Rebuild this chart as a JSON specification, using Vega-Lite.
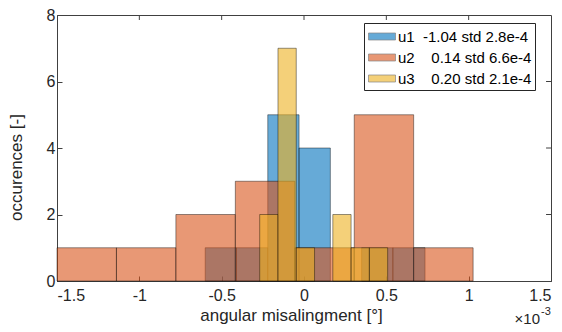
{
  "$schema": "https://vega.github.io/schema/vega-lite/v6.json",
  "autosize": {"type": "none"},
  "padding": {"left": 57, "top": 15, "right": 11, "bottom": 51},
  "width": 494,
  "height": 266,
  "config": {
    "font": "Liberation Sans",
    "view": {"stroke": "#404040", "strokeWidth": 1},
    "axis": {
      "domainColor": "#404040",
      "tickColor": "#404040",
      "labelColor": "#262626",
      "titleColor": "#262626",
      "labelFontSize": 16,
      "titleFontSize": 17,
      "titleFontWeight": "normal",
      "grid": false,
      "tickSize": -5,
      "labelPadding": 11,
      "labelExpr": "replace(format(datum.value, '~g'), '\u2212', '-')"
    }
  },
  "data": {
    "values": [
      {"s": "u1\u00a0\u00a0-1.04 std 2.8e-4", "x1": -0.60, "x2": -0.41, "n": 1},
      {"s": "u1\u00a0\u00a0-1.04 std 2.8e-4", "x1": -0.41, "x2": -0.22, "n": 1},
      {"s": "u1\u00a0\u00a0-1.04 std 2.8e-4", "x1": -0.22, "x2": -0.03, "n": 5},
      {"s": "u1\u00a0\u00a0-1.04 std 2.8e-4", "x1": -0.03, "x2": 0.16, "n": 4},
      {"s": "u1\u00a0\u00a0-1.04 std 2.8e-4", "x1": 0.35, "x2": 0.54, "n": 1},
      {"s": "u1\u00a0\u00a0-1.04 std 2.8e-4", "x1": 0.54, "x2": 0.735, "n": 1},
      {"s": "u2\u00a0\u00a0\u00a0\u00a00.14 std 6.6e-4", "x1": -1.5, "x2": -1.139, "n": 1},
      {"s": "u2\u00a0\u00a0\u00a0\u00a00.14 std 6.6e-4", "x1": -1.139, "x2": -0.778, "n": 1},
      {"s": "u2\u00a0\u00a0\u00a0\u00a00.14 std 6.6e-4", "x1": -0.778, "x2": -0.417, "n": 2},
      {"s": "u2\u00a0\u00a0\u00a0\u00a00.14 std 6.6e-4", "x1": -0.417, "x2": -0.056, "n": 3},
      {"s": "u2\u00a0\u00a0\u00a0\u00a00.14 std 6.6e-4", "x1": -0.056, "x2": 0.305, "n": 1},
      {"s": "u2\u00a0\u00a0\u00a0\u00a00.14 std 6.6e-4", "x1": 0.305, "x2": 0.666, "n": 5},
      {"s": "u2\u00a0\u00a0\u00a0\u00a00.14 std 6.6e-4", "x1": 0.666, "x2": 1.027, "n": 1},
      {"s": "u3\u00a0\u00a0\u00a0\u00a00.20 std 2.1e-4", "x1": -0.269, "x2": -0.158, "n": 2},
      {"s": "u3\u00a0\u00a0\u00a0\u00a00.20 std 2.1e-4", "x1": -0.158, "x2": -0.047, "n": 7},
      {"s": "u3\u00a0\u00a0\u00a0\u00a00.20 std 2.1e-4", "x1": -0.047, "x2": 0.064, "n": 1},
      {"s": "u3\u00a0\u00a0\u00a0\u00a00.20 std 2.1e-4", "x1": 0.175, "x2": 0.286, "n": 2},
      {"s": "u3\u00a0\u00a0\u00a0\u00a00.20 std 2.1e-4", "x1": 0.286, "x2": 0.397, "n": 1},
      {"s": "u3\u00a0\u00a0\u00a0\u00a00.20 std 2.1e-4", "x1": 0.397, "x2": 0.508, "n": 1}
    ]
  },
  "layer": [
    {
      "mark": {"type": "rect", "fillOpacity": 0.6, "stroke": "#000000", "strokeOpacity": 0.6, "strokeWidth": 0.7},
      "encoding": {
        "x": {
          "field": "x1", "type": "quantitative",
          "scale": {"domain": [-1.5, 1.5], "nice": false, "zero": false},
          "axis": {"orient": "bottom", "values": [-1.5, -1, -0.5, 0, 0.5, 1, 1.5], "title": "angular misalingment [°]", "titleX": 234, "titleY": 34, "titleBaseline": "middle"}
        },
        "x2": {"field": "x2"},
        "y": {
          "field": "n", "type": "quantitative",
          "scale": {"domain": [0, 8], "nice": false},
          "axis": {"orient": "left", "values": [0, 2, 4, 6, 8], "title": "occurences [-]", "titleX": -41, "titleY": 152, "titleBaseline": "middle", "labelPadding": 7}
        },
        "y2": {"datum": 0},
        "color": {
          "field": "s", "type": "nominal",
          "scale": {"range": ["#0072BD", "#D95319", "#EDB120"]},
          "legend": {
            "title": null,
            "orient": "none",
            "legendX": 307,
            "legendY": 8,
            "direction": "vertical",
            "fillColor": "#ffffff",
            "strokeColor": "#262626",
            "padding": 3,
            "symbolType": "M-1.35,-0.35H1.35V0.35H-1.35Z",
            "symbolSize": 400,
            "symbolOpacity": 0.6,
            "symbolStrokeColor": "#333333",
            "symbolStrokeWidth": 0.7,
            "symbolOffset": 4.5,
            "labelOffset": 5.5,
            "labelFontSize": 15,
            "labelColor": "#000000",
            "rowPadding": 2,
            "labelLimit": 300
          }
        }
      }
    },
    {
      "data": {"values": [{"t": -1}, {"t": -0.5}, {"t": 0}, {"t": 0.5}, {"t": 1}]},
      "mark": {"type": "rule", "color": "#404040", "strokeWidth": 1},
      "encoding": {
        "x": {"field": "t", "type": "quantitative"},
        "y": {"datum": 8, "type": "quantitative"},
        "y2": {"datum": 7.85}
      }
    },
    {
      "data": {"values": [{"t": 2}, {"t": 4}, {"t": 6}]},
      "mark": {"type": "rule", "color": "#404040", "strokeWidth": 1},
      "encoding": {
        "y": {"field": "t", "type": "quantitative"},
        "x": {"datum": 1.5, "type": "quantitative"},
        "x2": {"datum": 1.47}
      }
    },
    {
      "data": {"values": [{}]},
      "mark": {"type": "text", "align": "right", "baseline": "middle", "fontSize": 15, "color": "#262626", "clip": false, "dx": -11, "dy": 1},
      "encoding": {
        "x": {"datum": 1.5, "type": "quantitative"},
        "y": {"datum": -1.1, "type": "quantitative"},
        "text": {"value": "×10"}
      }
    },
    {
      "data": {"values": [{}]},
      "mark": {"type": "text", "align": "left", "baseline": "middle", "fontSize": 11, "color": "#262626", "clip": false, "dy": -6, "dx": -10},
      "encoding": {
        "x": {"datum": 1.5, "type": "quantitative"},
        "y": {"datum": -1.1, "type": "quantitative"},
        "text": {"value": "-3"}
      }
    }
  ]
}
